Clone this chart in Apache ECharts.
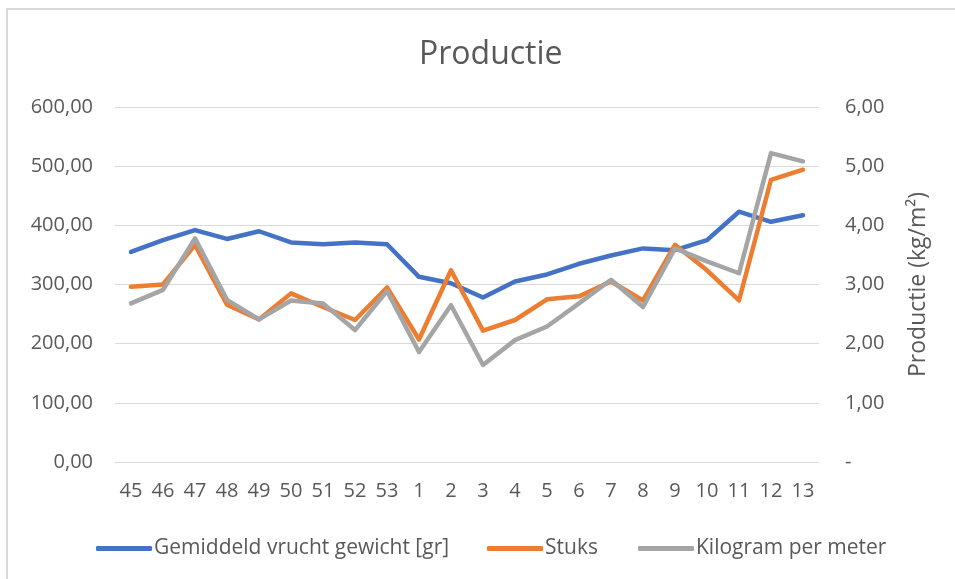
<!DOCTYPE html>
<html>
<head>
<meta charset="utf-8">
<script src="https://cdn.jsdelivr.net/npm/echarts@6/dist/echarts.min.js"></script>
<style>
  html, body { margin: 0; padding: 0; background: #fff; }
  #chart { width: 955px; height: 579px; }
</style>
</head>
<body>
<div id="chart"></div>
<script>
const categories = ['45', '46', '47', '48', '49', '50', '51', '52', '53', '1', '2', '3', '4', '5', '6', '7', '8', '9', '10', '11', '12', '13'];

// gemiddeld vruchtgewicht (gr), linker as
const gewicht = [355, 375, 392, 377, 390, 371, 368, 371, 368, 313, 302, 278, 305, 317, 335, 349, 361, 358, 375, 423, 406, 417];
// stuks, linker as
const stuks = [296, 300, 367, 266, 241, 285, 262, 240, 295, 207, 324, 222, 240, 275, 280, 305, 273, 367, 324, 273, 477, 494];
// kilogram per meter, rechter as
const kgPerMeter = [2.68, 2.91, 3.78, 2.74, 2.41, 2.73, 2.68, 2.23, 2.89, 1.86, 2.65, 1.64, 2.06, 2.29, 2.68, 3.08, 2.62, 3.61, 3.39, 3.19, 5.22, 5.08];

const textColor = '#595959';
const font = 'Open Sans';

const fmt = v => v.toFixed(2).replace('.', ',');

const chart = echarts.init(document.getElementById('chart'));

const legendItem = (name, left) => ({
  left: left,
  top: 533,
  itemWidth: 56,
  itemHeight: 5,
  icon: 'roundRect',
  textStyle: { color: textColor, fontFamily: font, fontSize: 21, padding: [0, 0, 0, -3] },
  data: [name]
});

const option = {
  backgroundColor: '#fff',
  title: {
    text: 'Productie',
    left: 414,
    top: 34,
    textStyle: { color: textColor, fontFamily: font, fontSize: 32, fontWeight: 'normal' }
  },
  legend: [
    legendItem('Gemiddeld vrucht gewicht [gr]', 91),
    legendItem('Stuks', 482),
    legendItem('Kilogram per meter', 633)
  ],
  grid: { left: 115, right: 136, top: 107, bottom: 117 },
  xAxis: {
    type: 'category',
    data: categories,
    boundaryGap: true,
    axisLine: { show: false },
    axisTick: { show: false },
    axisLabel: { color: textColor, fontFamily: font, fontSize: 20, margin: 19, interval: 0 }
  },
  yAxis: [
    {
      type: 'value',
      min: 0,
      max: 600,
      interval: 100,
      axisLine: { show: false },
      axisTick: { show: false },
      splitLine: { lineStyle: { color: '#d9d9d9', width: 1 } },
      axisLabel: { color: textColor, fontFamily: font, fontSize: 20, margin: 22, formatter: fmt }
    },
    {
      type: 'value',
      min: 0,
      max: 6,
      interval: 1,
      position: 'right',
      name: 'Productie (kg/m²)',
      nameLocation: 'middle',
      nameRotate: 90,
      nameGap: 88,
      nameTextStyle: { color: textColor, fontFamily: font, fontSize: 23 },
      axisLine: { show: false },
      axisTick: { show: false },
      splitLine: { show: false },
      axisLabel: {
        color: textColor, fontFamily: font, fontSize: 20, margin: 26,
        formatter: v => (v === 0 ? '-' : fmt(v))
      }
    }
  ],
  series: [
    {
      name: 'Gemiddeld vrucht gewicht [gr]',
      type: 'line',
      yAxisIndex: 0,
      data: gewicht,
      showSymbol: false,
      color: '#4472c4',
      lineStyle: { width: 4.5, color: '#4472c4', cap: 'round', join: 'round' }
    },
    {
      name: 'Stuks',
      type: 'line',
      yAxisIndex: 0,
      data: stuks,
      showSymbol: false,
      color: '#ed7d31',
      lineStyle: { width: 4.5, color: '#ed7d31', cap: 'round', join: 'round' }
    },
    {
      name: 'Kilogram per meter',
      type: 'line',
      yAxisIndex: 1,
      data: kgPerMeter,
      showSymbol: false,
      color: '#a5a5a5',
      lineStyle: { width: 4.5, color: '#a5a5a5', cap: 'round', join: 'round' }
    }
  ],
  graphic: [
    {
      type: 'polyline',
      shape: { points: [[7, 579], [7, 9], [955, 9]] },
      style: { stroke: '#d9d9d9', lineWidth: 2, fill: null }
    }
  ]
};

chart.setOption(option);
window.addEventListener('resize', () => chart.resize());
</script>
</body>
</html>
